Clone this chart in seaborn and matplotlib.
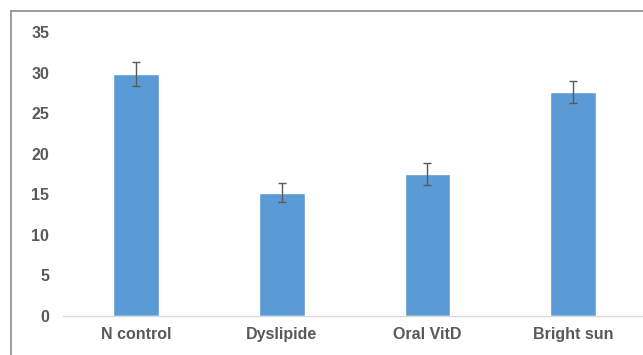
import matplotlib
matplotlib.use("Agg")
import matplotlib.pyplot as plt
import seaborn as sns
from matplotlib.lines import Line2D

categories = ["N control", "Dyslipide", "Oral VitD", "Bright sun"]
values = [29.8, 15.2, 17.5, 27.6]
errors = [1.5, 1.2, 1.3, 1.4]
yticks = [0, 5, 10, 15, 20, 25, 30, 35]

sns.set_theme(style="white")
plt.rcParams['font.family'] = ['Liberation Sans', 'DejaVu Sans']

fig = plt.figure(figsize=(6.43, 3.55), dpi=100)
W, H = 643, 355
ax = fig.add_axes([63 / W, (H - 316) / H, (W - 63) / W, 284 / H])

sns.barplot(x=categories, y=values, color="#5B9BD5", saturation=1,
            width=0.315, ax=ax, errorbar=None)
xs = ax.get_xticks()
ax.errorbar(xs, values, yerr=errors, fmt="none", ecolor="#595959",
            elinewidth=1.0, capsize=3, capthick=1.0)

ax.set_ylim(0, 35)
ax.set_xlim(-0.5, -0.5 + (W - 63) / 145.8)
ax.set_yticks(yticks)
ax.set_yticklabels([str(t) for t in yticks])
for s in ["top", "right", "left"]:
    ax.spines[s].set_visible(False)
ax.spines["bottom"].set_color("#d9d9d9")
ax.spines["bottom"].set_linewidth(1.0)
ax.tick_params(axis="y", length=0, pad=10, labelsize=11.5, labelcolor="#595959")
ax.tick_params(axis="x", length=0, pad=8, labelsize=11.5, labelcolor="#595959")
for lab in ax.get_xticklabels() + ax.get_yticklabels():
    lab.set_fontweight("bold")
ax.set_xlabel("")
ax.set_ylabel("")

# outer chart frame (partially visible)
fig.add_artist(Line2D([10.5 / W, 1], [1 - 10.5 / H, 1 - 10.5 / H],
                      transform=fig.transFigure, color="#8c8c8c", lw=1.2))
fig.add_artist(Line2D([10.5 / W, 10.5 / W], [0, 1 - 10.5 / H],
                      transform=fig.transFigure, color="#8c8c8c", lw=1.2))

fig.savefig("out.png", dpi=100)
